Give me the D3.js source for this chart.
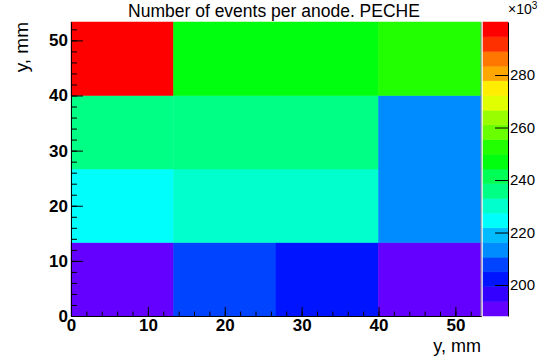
<!DOCTYPE html>
<html>
<head>
<meta charset="utf-8">
<script src="https://cdn.jsdelivr.net/npm/d3@7"></script>
<style>
  body { margin: 0; background: #fff; }
  svg { display: block; font-family: "Liberation Sans", Arial, sans-serif; }
</style>
</head>
<body>
<div class="graphContainer"></div>
<script>
// bin edges (mm) for both axes
var xEdges = [0, 13.333, 26.667, 40, 53.333];
var yEdges = [0, 13.333, 26.667, 40, 53.333];

// counts per anode, in units of 10^3, one array per y bin (bottom to top)
var rowY0 = [188.2, 208, 202, 191];
var rowY1 = [225, 230, 231, 213];
var rowY2 = [236, 235, 236, 213];
var rowY3 = [300.2, 247, 246, 252];

var xTicks = [0, 10, 20, 30, 40, 50];
var yTicks = [0, 10, 20, 30, 40, 50];
var zTicks = [200, 220, 240, 260, 280];

var width = 543;
var height = 357;

var rows = [rowY0, rowY1, rowY2, rowY3];
var cells = [];
rows.forEach(function (r, j) {
  r.forEach(function (v, i) {
    cells.push({ i: i, j: j, v: v });
  });
});

var zMin = d3.min(cells, (d) => d.v);
var zMax = d3.max(cells, (d) => d.v);
var nContours = 20;

// ROOT "pretty" palette: 50 hues from violet to red, 20 contour levels
function contourColor(k) {
  var idx = Math.floor((k + 0.99) * 50 / nContours);
  var hue = 280 - (idx + 1) * 5.6;
  if (hue < 0) hue = 0;
  return d3.hsl(hue, 1, 0.5).toString();
}
function zColor(v) {
  var k = Math.floor((v - zMin) / (zMax - zMin) * nContours);
  k = Math.max(0, Math.min(nContours - 1, k));
  return contourColor(k);
}

var svg = d3
  .select(".graphContainer")
  .append("svg")
  .attr("width", width)
  .attr("height", height);

var xScale = d3.scaleLinear().domain([xEdges[0], xEdges[4]]).range([71, 481]);
var yScale = d3.scaleLinear().domain([yEdges[0], yEdges[4]]).range([316, 22]);

// cells
svg
  .append("g")
  .selectAll("rect")
  .data(cells)
  .enter()
  .append("rect")
  .attr("x", (d) => xScale(xEdges[d.i]))
  .attr("y", (d) => yScale(yEdges[d.j + 1]))
  .attr("width", (d) => xScale(xEdges[d.i + 1]) - xScale(xEdges[d.i]))
  .attr("height", (d) => yScale(yEdges[d.j]) - yScale(yEdges[d.j + 1]))
  .style("fill", (d) => zColor(d.v))
  .style("stroke", (d) => zColor(d.v))
  .style("stroke-width", 0.5);

// frame right edge
svg
  .append("line")
  .attr("x1", xScale.range()[1])
  .attr("x2", xScale.range()[1])
  .attr("y1", yScale.range()[0])
  .attr("y2", yScale.range()[1])
  .style("stroke", "#888")
  .style("stroke-width", 1);

//x axis
var xMinor = d3.range(0, 53, 2);
svg
  .append("g")
  .attr("transform", "translate(0,316)")
  .call(d3.axisBottom(xScale).tickValues(xMinor).tickSize(-4.5).tickSizeOuter(0).tickFormat(""));
var xAxisGroup = svg
  .append("g")
  .attr("transform", "translate(0,316)")
  .call(d3.axisBottom(xScale).tickValues(xTicks).tickSize(-9).tickSizeOuter(0).tickPadding(3));
xAxisGroup
  .selectAll("text")
  .style("font-size", "17px")
  .style("font-weight", "bold")
  .style("fill", "#000");

//y axis
var yMinor = d3.range(0, 53, 2);
svg
  .append("g")
  .attr("transform", "translate(71,0)")
  .call(d3.axisLeft(yScale).tickValues(yMinor).tickSize(-6).tickSizeOuter(0).tickFormat(""));
var yAxisGroup = svg
  .append("g")
  .attr("transform", "translate(71,0)")
  .call(d3.axisLeft(yScale).tickValues(yTicks).tickSize(-12).tickSizeOuter(0).tickPadding(3));
yAxisGroup
  .selectAll("text")
  .style("font-size", "17px")
  .style("font-weight", "bold")
  .style("fill", "#000");

svg.selectAll(".domain").style("stroke", "#000");
svg.selectAll(".tick line").style("stroke", "#000");

// palette
var zScale = d3.scaleLinear().domain([zMin, zMax]).range([316, 22]);
var levels = d3.range(nContours);
var dz = (zMax - zMin) / nContours;
svg
  .append("g")
  .selectAll("rect")
  .data(levels)
  .enter()
  .append("rect")
  .attr("x", 483)
  .attr("width", 25)
  .attr("y", (k) => zScale(zMin + (k + 1) * dz))
  .attr("height", (k) => zScale(zMin + k * dz) - zScale(zMin + (k + 1) * dz))
  .style("fill", (k) => contourColor(k))
  .style("stroke", (k) => contourColor(k))
  .style("stroke-width", 0.5);

var zAxisGroup = svg
  .append("g")
  .attr("transform", "translate(508,0)")
  .call(d3.axisRight(zScale).tickValues(zTicks).tickSize(-13).tickSizeOuter(0).tickPadding(2));
zAxisGroup.selectAll("text").style("font-size", "15px").style("fill", "#000");
zAxisGroup.selectAll("line").style("stroke", "#000");
zAxisGroup.select(".domain").style("stroke", "#000");

var expo = svg.append("text").attr("x", 508).attr("y", 14).style("font-size", "14px");
expo.append("tspan").text("\u00d710");
expo.append("tspan").attr("dy", -5).style("font-size", "10px").text("3");

// titles
svg
  .append("text")
  .attr("x", 274)
  .attr("y", 17)
  .attr("text-anchor", "middle")
  .style("font-size", "17.5px")
  .text("Number of events per anode. PECHE");

svg
  .append("text")
  .attr("x", 481)
  .attr("y", 352)
  .attr("text-anchor", "end")
  .style("font-size", "18px")
  .text("y, mm");

svg
  .append("text")
  .attr("transform", "translate(28,22) rotate(-90)")
  .attr("text-anchor", "end")
  .style("font-size", "19px")
  .text("y, mm");
</script>
</body>
</html>
